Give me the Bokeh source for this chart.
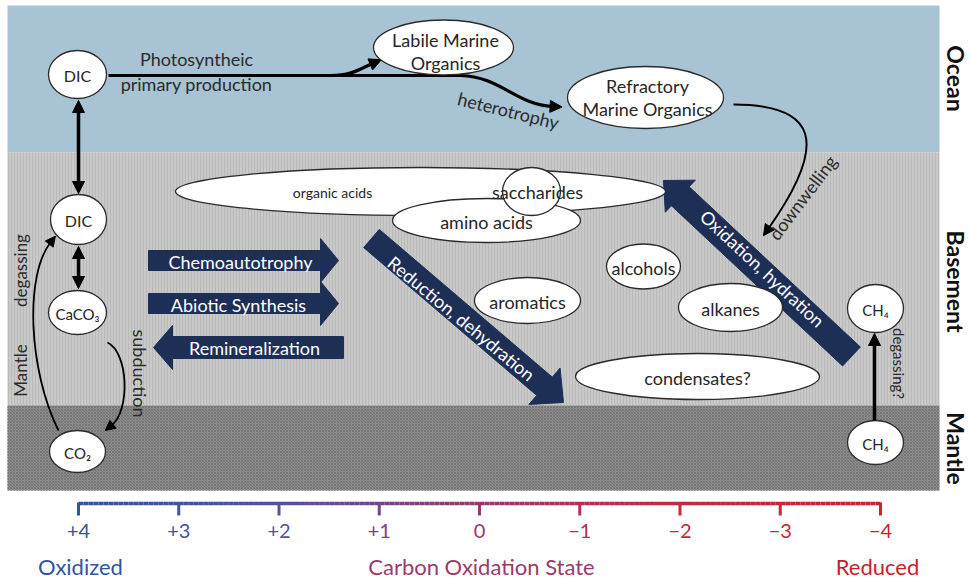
import math
import numpy as np
from bokeh.plotting import figure
from bokeh.models import Range1d, Arrow, NormalHead
from bokeh.core.properties import value
from bokeh.embed import file_html
from bokeh.resources import INLINE

FONT = "Lato"

# ---------------- data ----------------
zones = ["Ocean", "Basement", "Mantle"]
zone_top = [5, 152, 405]
zone_bottom = [152, 405, 490]

ox_states = [4, 3, 2, 1, 0, -1, -2, -3, -4]
ox_labels = ["+4", "+3", "+2", "+1", "0", "\u22121", "\u22122", "\u22123", "\u22124"]

node_labels = ["DIC", "DIC", "CaCO\u2083", "CO\u2082", "", "", "", "amino acids", "",
               "alcohols", "aromatics", "alkanes", "condensates?", "CH\u2084", "CH\u2084"]
node_x = [77, 78, 77, 77, 443, 645, 420, 486, 531, 643, 527, 730, 697, 875, 875]
node_y = [74, 219, 312, 451, 47, 97, 191, 220, 191, 266, 300, 307, 376, 308, 442]
node_w = [58, 56, 58, 56, 140, 156, 490, 188, 58, 74, 106, 104, 244, 56, 56]
node_h = [48, 50, 44, 42, 55, 62, 48, 44, 48, 45, 46, 48, 46, 48, 44]

process_labels = ["Chemoautotrophy", "Abiotic Synthesis", "Remineralization",
                  "Reduction, dehydration", "Oxidation, hydration"]
proc_x0 = [148, 148, 343, 371, 851]
proc_y0 = [260, 303, 347, 238, 356]
proc_x1 = [338, 338, 153, 563, 663]
proc_y1 = [260, 303, 347, 402, 180]

# ---------------- figure ----------------
W, H = 970, 579
p = figure(width=W, height=H, x_range=Range1d(0, W), y_range=Range1d(H, 0),
           output_backend="svg", toolbar_location=None, x_axis_type=None, y_axis_type=None,
           min_border=0)
p.grid.visible = False
p.outline_line_color = None
p.background_fill_color = "white"
p.border_fill_color = "white"

# zones
p.quad(left=7, right=939, top=zone_top[0], bottom=zone_bottom[0], fill_color="#a8c3d3", line_color=None)
p.quad(left=7, right=939, top=zone_top[1], bottom=zone_bottom[1], fill_color="#c9c9c9", line_color=None,
       hatch_pattern="vertical_line", hatch_color="#b9b9b9", hatch_scale=3, hatch_weight=1)
p.quad(left=7, right=939, top=zone_top[2], bottom=zone_bottom[2], fill_color="#8e8e8e", line_color=None,
       hatch_pattern="diagonal_cross", hatch_color="#767676", hatch_scale=3, hatch_weight=1)

zone_cy = [78, 281, 448]
p.text(x=[955] * 3, y=zone_cy, text=zones, angle=-math.pi / 2, text_align="center",
       text_baseline="middle", text_font=value(FONT), text_font_size="23px",
       text_font_style="bold", text_color="#111111")


def unit(dx, dy):
    n = math.hypot(dx, dy)
    return dx / n, dy / n


def head(tx, ty, dx, dy, L=11, W=5.5):
    ux, uy = unit(dx, dy)
    nx, ny = -uy, ux
    bx, by = tx - L * ux, ty - L * uy
    return [tx, bx + W * nx, bx - W * nx], [ty, by + W * ny, by - W * ny]


def curve_arrow(P0, P1, P2, P3, lw=2.0, L=11, W=5.5):
    p.bezier(x0=[P0[0]], y0=[P0[1]], x1=[P3[0]], y1=[P3[1]], cx0=[P1[0]], cy0=[P1[1]],
             cx1=[P2[0]], cy1=[P2[1]], line_color="black", line_width=lw)
    ux, uy = unit(P3[0] - P2[0], P3[1] - P2[1])
    xs, ys = head(P3[0] + L * 0.8 * ux, P3[1] + L * 0.8 * uy, ux, uy, L, W)
    p.patch(xs, ys, fill_color="black", line_color="black", line_width=1)


# ocean flows
p.line([108, 462], [75, 75], line_color="black", line_width=3.2)
curve_arrow((330, 75), (352, 75), (360, 68), (372, 63), lw=3.2, L=12, W=6)
curve_arrow((460, 75), (500, 76), (515, 104), (552, 106), lw=3.2, L=12, W=6)
curve_arrow((733, 104), (815, 104), (830, 140), (768, 228), lw=2.0, L=11, W=5.5)
# mantle degassing / subduction
curve_arrow((58, 430), (28, 370), (24, 275), (50, 242), lw=1.8, L=10, W=5)
curve_arrow((107, 342), (128, 352), (130, 410), (111, 425), lw=1.8, L=10, W=5)

# straight thick arrows
for (xa, ya, xb, yb, both) in [(78, 100, 78, 193, True), (78, 246, 78, 288, True),
                               (874, 420, 874, 333, False)]:
    p.add_layout(Arrow(x_start=xa, y_start=ya, x_end=xb, y_end=yb, line_width=3.5,
                       line_color="black",
                       start=NormalHead(size=12, fill_color="black", line_color="black") if both else None,
                       end=NormalHead(size=12, fill_color="black", line_color="black")))

# flow labels
lab_txt = ["Photosyntheic", "primary production", "heterotrophy", "downwelling",
           "Mantle", "degassing", "subduction", "degassing?"]
lab_x = [196, 196, 508, 802, 20, 20, 139, 898]
lab_y = [58, 83, 110, 197, 370, 270, 373, 363]
lab_a = [0, 0, -14, 53, 90, 90, -90, -90]
lab_fs = ["18px", "18px", "18px", "18px", "17px", "17px", "18px", "15px"]
for t, x, y, a, fs in zip(lab_txt, lab_x, lab_y, lab_a, lab_fs):
    p.text(x=[x], y=[y], text=[t], angle=math.radians(a), text_align="center",
           text_baseline="middle", text_font=value(FONT), text_font_size=fs,
           text_color="#2b2b2b")

# big process arrows
NAVY = "#1e2f56"
bw = [10, 10, 11, 12, 13]
hw = [22, 22, 22, 24, 22]
hl = [18, 18, 19, 25, 23]
for i, lab in enumerate(process_labels):
    sx, sy, ex, ey = proc_x0[i], proc_y0[i], proc_x1[i], proc_y1[i]
    ux, uy = unit(ex - sx, ey - sy)
    nx, ny = -uy, ux
    bx, by = ex - hl[i] * ux, ey - hl[i] * uy
    xs = [sx + bw[i] * nx, bx + bw[i] * nx, bx + hw[i] * nx, ex, bx - hw[i] * nx, bx - bw[i] * nx, sx - bw[i] * nx]
    ys = [sy + bw[i] * ny, by + bw[i] * ny, by + hw[i] * ny, ey, by - hw[i] * ny, by - bw[i] * ny, sy - bw[i] * ny]
    p.patch(xs, ys, fill_color=NAVY, line_color=NAVY, line_width=1)

txt_x = [240, 238, 254, 461, 762]
txt_y = [261, 304, 347, 318, 268]
txt_a = [0, 0, 0, -39.5, -43]
for i, lab in enumerate(process_labels):
    p.text(x=[txt_x[i]], y=[txt_y[i]], text=[lab], angle=math.radians(txt_a[i]),
           text_align="center", text_baseline="middle", text_font=value(FONT),
           text_font_size="18px", text_color="white")

# nodes
p.ellipse(x=node_x, y=node_y, width=node_w, height=node_h, fill_color="white",
          line_color="#2a2a2a", line_width=1.3)
node_fs = ["16px", "16px", "15px", "15px", "18px", "18px", "14px", "18px", "18px",
           "18px", "18px", "18px", "18px", "15px", "15px"]
for i, t in enumerate(node_labels):
    if t:
        p.text(x=[node_x[i]], y=[node_y[i] + 1], text=[t], text_align="center",
               text_baseline="middle", text_font=value(FONT), text_font_size=node_fs[i],
               text_color="#262626")
extra_txt = ["Labile Marine", "Organics", "Refractory", "Marine Organics", "organic acids", "saccharides"]
extra_x = [445, 445, 647, 647, 332, 537]
extra_y = [39, 62, 85, 108, 192, 191]
extra_fs = ["18px", "18px", "18px", "18px", "14px", "18px"]
for t, x, y, fs in zip(extra_txt, extra_x, extra_y, extra_fs):
    p.text(x=[x], y=[y], text=[t], text_align="center", text_baseline="middle",
           text_font=value(FONT), text_font_size=fs, text_color="#262626")

# oxidation-state scale
X_LEFT, X_RIGHT = 78, 880


def ox_to_x(v):
    return X_LEFT + (4 - v) * (X_RIGHT - X_LEFT) / 8.0


stops_v = [4, 2, 1, 0, -1, -2, -4]
stops_c = [(47, 85, 165), (85, 80, 165), (120, 65, 145), (150, 55, 115), (185, 45, 85),
           (200, 38, 62), (208, 32, 42)]


def ox_color(v):
    for k in range(len(stops_v) - 1):
        a, b = stops_v[k], stops_v[k + 1]
        if b <= v <= a:
            t = (a - v) / (a - b)
            c = [int(round(stops_c[k][j] + t * (stops_c[k + 1][j] - stops_c[k][j]))) for j in range(3)]
            return "#%02x%02x%02x" % tuple(c)
    return "#%02x%02x%02x" % (stops_c[-1] if v < 0 else stops_c[0])


vs = np.linspace(4, -4, 161)
p.segment(x0=[ox_to_x(v) for v in vs[:-1]], y0=[503] * 160, x1=[ox_to_x(v) for v in vs[1:]],
          y1=[503] * 160, line_color=[ox_color((a + b) / 2) for a, b in zip(vs[:-1], vs[1:])],
          line_width=3.5)
p.segment(x0=[ox_to_x(v) for v in ox_states], y0=[502] * 9, x1=[ox_to_x(v) for v in ox_states],
          y1=[515] * 9, line_color=[ox_color(v) for v in ox_states], line_width=3)
p.text(x=[ox_to_x(v) for v in ox_states], y=[530] * 9, text=ox_labels, text_align="center",
       text_baseline="middle", text_font=value(FONT), text_font_size="20px",
       text_color=[ox_color(v) for v in ox_states])
p.text(x=[80, 481, 877], y=[566] * 3, text=["Oxidized", "Carbon Oxidation State", "Reduced"],
       text_align="center", text_baseline="middle", text_font=value(FONT), text_font_size="22px",
       text_color=["#2f55a0", "#9b3a6c", "#c9202e"])

open("out.html", "w").write(file_html(p, INLINE))
